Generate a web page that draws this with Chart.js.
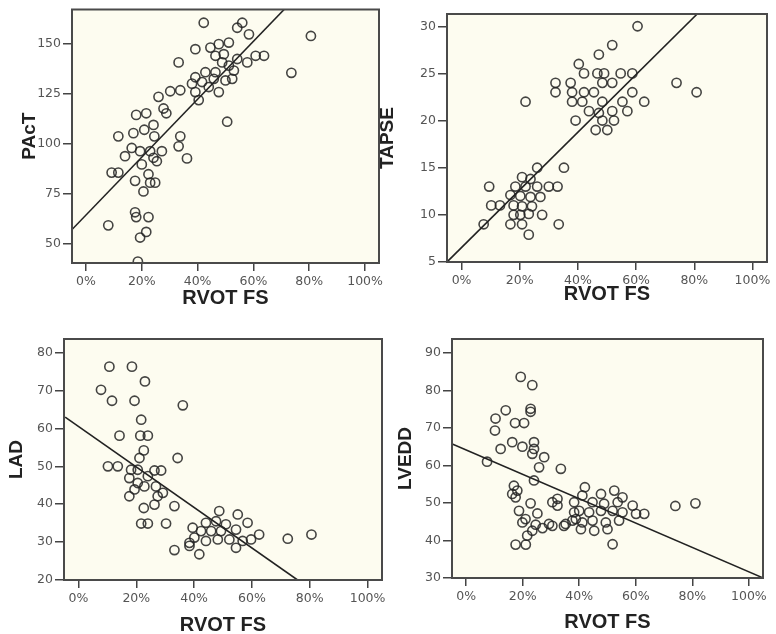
<!DOCTYPE html>
<html><head><meta charset="utf-8">
<script src="https://cdn.jsdelivr.net/npm/chart.js@4/dist/chart.umd.min.js"></script>
<style>
html,body{margin:0;padding:0;background:#fff;overflow:hidden;width:776px;height:634px;position:relative;}
canvas{position:absolute;}
</style></head><body>
<canvas id="c1" width="390" height="310" style="left:0px;top:0px"></canvas>
<canvas id="c2" width="406" height="310" style="left:370px;top:0px"></canvas>
<canvas id="c3" width="390" height="324" style="left:0px;top:320px"></canvas>
<canvas id="c4" width="386" height="324" style="left:390px;top:320px"></canvas>
<script>
// ---------- data ----------
const xTickValues = [0, 20, 40, 60, 80, 100];
const xTitle = 'RVOT FS';

// PAcT vs RVOT FS
const pactFS = [42.2,56,54.2,58.4,39.2,44.6,47.6,51.2,33.2,49.4,46.4,60.8,63.8,54.2,57.8,48.8,51.2,42.8,46.4,53,39.2,41.6,45.8,50,52.4,33.8,38,39.2,47.6,44,40.4,50.6,80.6,73.6,
  30.2,26,18,21.6,27.8,28.8,24.2,11.6,17,20.9,24.5,33.8,33.2,16.4,19.4,23,27.2,14,24.2,36.2,20,25.4,9.2,11.6,17.6,22.4,23,24.8,20.6,17.6,18,22.4,8,21.6,19.4,18.6];
const pactVal = [160.4,160.4,157.9,154.6,147.2,148,149.7,150.5,140.6,144.7,143.9,143.9,143.9,142.3,140.6,140.6,139,135.7,135.7,136.5,133.2,130.8,132.4,131.6,132.4,126.7,130,125.8,125.8,128.3,121.8,111,153.8,135.4,
  126.2,123.4,114.4,115.2,117.6,115.2,109.4,103.7,105.3,107,103.7,103.7,98.7,97.9,96.3,96.3,96.3,93.8,93,92.7,89.7,91.3,85.6,85.6,81.5,84.8,80.6,80.6,76.2,65.8,63.4,63.4,59.3,56,53.2,41.2];
const pactLineX = [-5, 71];
const pactLineY = [57.2, 167];
const pactTicks = [50, 75, 100, 125, 150];

// TAPSE vs RVOT FS
const tapseFS = [7.6,9.5,10.2,13.2,17.9,20.8,24.2,16.8,20.2,23.7,27.1,18.5,22,26,30,33,20.8,23.7,26,35.2,17.9,20.2,23.1,27.7,16.8,20.8,33.4,23.1,
  22,32.3,32.3,37.5,40.3,42.1,46.7,49,54.7,58.7,47.2,51.8,60.5,48.4,51.8,38,42.1,45.5,58.7,38,41.5,48.4,55.3,62.8,43.8,47.2,51.8,57,39.2,48.4,52.4,46.1,50.1,73.9,80.8];
const tapseVal = [9,13,11,11,11,10.9,10.9,12.1,12,11.9,11.9,13,13,13,13,13,14,13.8,15,15,10,10,10.1,10,9,9,9,7.9,
  22,24,23,24,26,25,25,25,25,25,27,28,30,24,24,23,23,23,23,22,22,22,22,22,21,20.8,21,21,20,20,20,19,19,24,23];
const tapseLineX = [-5, 81];
const tapseLineY = [5, 31.3];
const tapseTicks = [5, 10, 15, 20, 25, 30];

// LAD vs RVOT FS
const ladFS = [10.7,18.5,23,7.8,11.6,19.4,36.1,21.7,14.2,21.4,24,22.6,21.1,34.3,10.2,13.6,18.2,20.5,26.3,28.6,17.6,24,20.5,22.8,26.8,19.4,17.6,27.4,29.2,26.3,22.6,33.2,21.7,24,30.3,33.2,39.5,38.4,
  48.7,55.1,58.5,44.1,47.6,51,42.4,45.9,49.3,54.5,62.5,72.4,40.1,44.1,48.2,52.2,56.8,59.7,38.4,54.5,41.8,80.6];
const ladVal = [76.3,76.3,72.4,70.2,67.3,67.3,66.1,62.3,58.1,58.1,58.1,54.2,52.2,52.2,50,50,49.1,49.1,48.9,48.9,46.9,47.4,45.6,44.7,44.7,43.9,42.1,42.1,43,39.9,39,39.5,34.9,34.9,34.9,27.9,33.8,29.8,
  38.2,37.3,35.1,35.1,35.5,34.7,32.9,32.9,32.9,33.3,32,30.9,31.2,30.3,30.7,30.7,30.3,30.7,29,28.5,26.8,32];
const ladLineX = [-4.6, 75.8];
const ladLineY = [63, 20];
const ladTicks = [20, 30, 40, 50, 60, 70, 80];

// LVEDD vs RVOT FS
const lveddFS = [19.3,23.4,14,10.4,22.8,22.8,17.3,20.5,10.2,12.2,16.3,19.9,24,24,23.4,27.6,25.8,33.5,7.4,24,16.9,18.1,17.5,16.3,18.7,22.8,21,25.2,19.9,24.6,23.4,27,30.5,21.6,17.5,21.1,
  32.3,32.3,38.2,35.2,38.2,38.8,40.6,42,47.7,52.4,55.3,41.1,44.7,48.8,53.6,58.9,63,40,43.5,47.7,51.8,55.3,60.1,37.6,41.1,44.7,49.4,54.1,29.3,34.6,45.3,50,51.8,74,81.1,30.5];
const lveddVal = [83.6,81.4,74.7,72.5,75.1,74.3,71.3,71.3,69.3,64.4,66.2,65,66.2,64.4,63.1,62.2,59.5,59.1,61,56,54.6,53.3,51.5,52.4,47.9,49.9,45.7,47.2,44.8,44.2,42.6,43.3,43.9,41.3,38.9,38.9,
  51.1,49.3,50.2,44.4,47.5,45.7,43,54.2,52.4,53.3,51.5,52,50.2,49.8,50.2,49.3,47.1,47.9,47.5,47.9,47.9,47.5,47.1,45.3,44.8,45.3,44.8,45.3,44.4,43.9,42.6,43,39,49.2,49.9,50.2];
const lveddLineX = [-5.5, 104.8];
const lveddLineY = [65.9, 30.1];
const lveddTicks = [30, 40, 50, 60, 70, 80, 90];

// ---------- drawing ----------
const FONT = '"Liberation Sans", Arial, sans-serif';
const frame = {
  id: 'frame',
  beforeDraw(chart) {
    const {ctx, chartArea: a} = chart;
    ctx.save(); ctx.fillStyle = '#fdfcf0'; ctx.fillRect(a.left, a.top, a.width, a.height); ctx.restore();
  },
  afterDraw(chart) {
    const {ctx, chartArea: a} = chart;
    ctx.save(); ctx.strokeStyle = '#4a4a4a'; ctx.lineWidth = 2;
    ctx.strokeRect(a.left, a.top, a.width, a.height); ctx.restore();
  }
};

function zip(xs, ys) { return xs.map((x, i) => ({x: x, y: ys[i]})); }

function panel(id, xs, ys, lx, ly, yMin, yMax, yTicks, yTitle, g) {
  new Chart(document.getElementById(id), {
    type: 'scatter',
    data: {
      datasets: [
        {data: zip(xs, ys), pointStyle: 'circle', pointRadius: 4.6, pointBorderWidth: 1.6,
         borderColor: 'rgba(35,35,35,0.85)', backgroundColor: 'rgba(0,0,0,0)', order: 1},
        {data: zip(lx, ly), showLine: true, pointRadius: 0, borderColor: '#222', borderWidth: 1.6, order: 2}
      ]
    },
    options: {
      responsive: false, animation: false, events: [],
      layout: {padding: {top: g.pt, right: g.pr, left: 0, bottom: 0}},
      plugins: {legend: {display: false}, tooltip: {enabled: false}},
      scales: {
        x: {
          type: 'linear', min: -5, max: 105,
          afterBuildTicks: s => { s.ticks = xTickValues.map(v => ({value: v})); },
          afterFit: s => { s.height = g.xh; },
          ticks: {callback: v => v + '%', font: {family: '"DejaVu Sans", sans-serif', size: 12.5}, color: '#555', padding: 3, maxRotation: 0, autoSkip: false},
          grid: {drawOnChartArea: false, drawTicks: true, tickLength: 8, color: '#444', lineWidth: 1.5},
          border: {display: false},
          title: {display: true, text: xTitle, color: '#222', font: {family: FONT, size: 20, weight: 'bold'}, padding: {top: 0, bottom: g.xtp}}
        },
        y: {
          type: 'linear', min: yMin, max: yMax,
          afterBuildTicks: s => { s.ticks = yTicks.map(v => ({value: v})); },
          afterFit: s => { s.width = g.yw; },
          ticks: {font: {family: '"DejaVu Sans", sans-serif', size: 12.5}, color: '#555', padding: 2, autoSkip: false},
          grid: {drawOnChartArea: false, drawTicks: true, tickLength: 9, color: '#444', lineWidth: 1.5},
          border: {display: false},
          title: {display: true, text: yTitle, color: '#222', font: {family: FONT, size: 19, weight: 'bold'}, padding: {top: g.ytp, bottom: 0}}
        }
      }
    },
    plugins: [frame]
  });
}

panel('c1', pactFS, pactVal, pactLineX, pactLineY, 40.5, 167, pactTicks, 'PAcT', {yw: 72, xh: 47, pt: 7, pr: 11, xtp: 0, ytp: 18});
panel('c2', tapseFS, tapseVal, tapseLineX, tapseLineY, 5, 31.3, tapseTicks, 'TAPSE', {yw: 77, xh: 48, pt: 14, pr: 9, xtp: 4, ytp: 6});
panel('c3', ladFS, ladVal, ladLineX, ladLineY, 20, 83.6, ladTicks, 'LAD', {yw: 64, xh: 64, pt: 19, pr: 8, xtp: 7, ytp: 5});
panel('c4', lveddFS, lveddVal, lveddLineX, lveddLineY, 30, 93.7, lveddTicks, 'LVEDD', {yw: 62, xh: 66, pt: 19, pr: 13, xtp: 10, ytp: 4});
</script>
</body></html>
